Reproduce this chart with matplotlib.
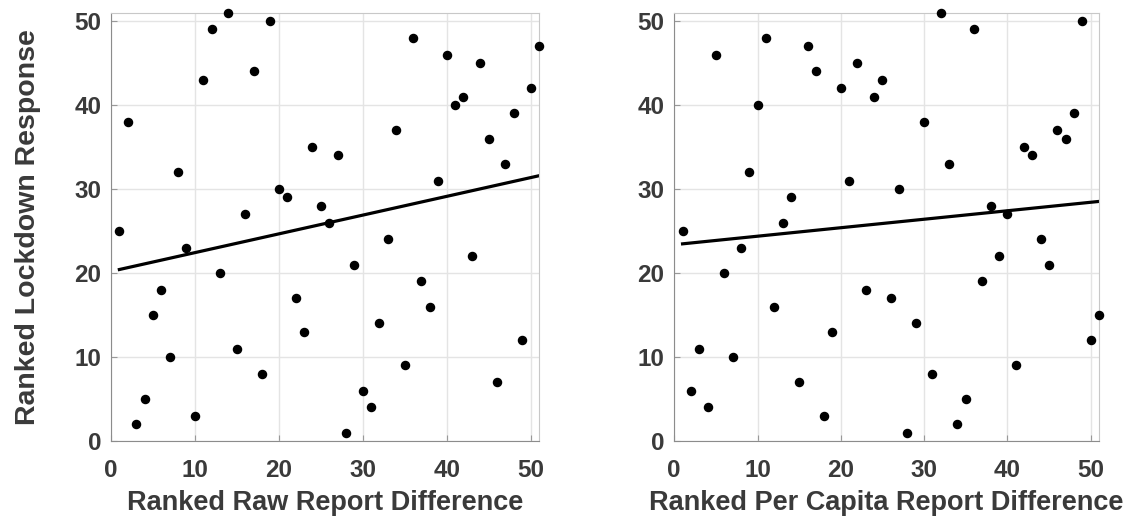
import numpy as np
import matplotlib
matplotlib.use('Agg')
import matplotlib.pyplot as plt

# ranks 1..51 on x, rank of lockdown response on y
rank_x = list(range(1, 52))
raw_y = [25, 38, 2, 5, 15, 18, 10, 32, 23, 3, 43, 49, 20, 51, 11, 27, 44, 8, 50, 30,
         29, 17, 13, 35, 28, 26, 34, 1, 21, 6, 4, 14, 24, 37, 9, 48, 19, 16, 31, 46,
         40, 41, 22, 45, 36, 7, 33, 39, 12, 42, 47]
percap_y = [25, 6, 11, 4, 46, 20, 10, 23, 32, 40, 48, 16, 26, 29, 7, 47, 44, 3, 13, 42,
            31, 45, 18, 41, 43, 17, 30, 1, 14, 38, 8, 51, 33, 2, 5, 49, 19, 28, 22, 27,
            9, 35, 34, 24, 21, 37, 36, 39, 50, 12, 15]
xlabels = ['Ranked Raw Report Difference', 'Ranked Per Capita Report Difference']
ylabel = 'Ranked Lockdown Response'
ticks = [0, 10, 20, 30, 40, 50]

plt.rcParams['font.family'] = ['Liberation Sans', 'DejaVu Sans']
txt = '#3a3a3a'

fig = plt.figure(figsize=(11.37, 5.18), dpi=100)
ax1 = fig.add_axes([0.0976, 0.1486, 0.3764, 0.827])
ax2 = fig.add_axes([0.593, 0.1486, 0.3736, 0.827])

for ax, yv, xl in [(ax1, raw_y, xlabels[0]), (ax2, percap_y, xlabels[1])]:
    x = np.array(rank_x); y = np.array(yv)
    ax.scatter(x, y, s=34, color='black', zorder=3, clip_on=False)
    m, b = np.polyfit(x, y, 1)
    xx = np.array([x.min(), x.max()])
    ax.plot(xx, m * xx + b, color='black', lw=2.3, zorder=2)
    ax.set_xlim(0, 51); ax.set_ylim(0, 51)
    ax.set_xticks(ticks); ax.set_yticks(ticks)
    ax.grid(color='#e4e4e4', lw=1)
    ax.set_axisbelow(True)
    ax.tick_params(direction='in', length=4, color='#999999', labelsize=17.5,
                   labelcolor=txt)
    ax.tick_params(axis='x', pad=13)
    ax.tick_params(axis='y', pad=7)
    for lab in ax.get_xticklabels() + ax.get_yticklabels():
        lab.set_fontweight('bold')
    for s in ['left', 'bottom']:
        ax.spines[s].set_color('#8c8c8c')
    for s in ['top', 'right']:
        ax.spines[s].set_color('#c8c8c8')
    ax.set_xlabel(xl, fontsize=19.5, fontweight='bold', color=txt, labelpad=6)

ax1.set_ylabel(ylabel, fontsize=20.5, fontweight='bold', color=txt, labelpad=24)

fig.savefig('out.png', dpi=100)
